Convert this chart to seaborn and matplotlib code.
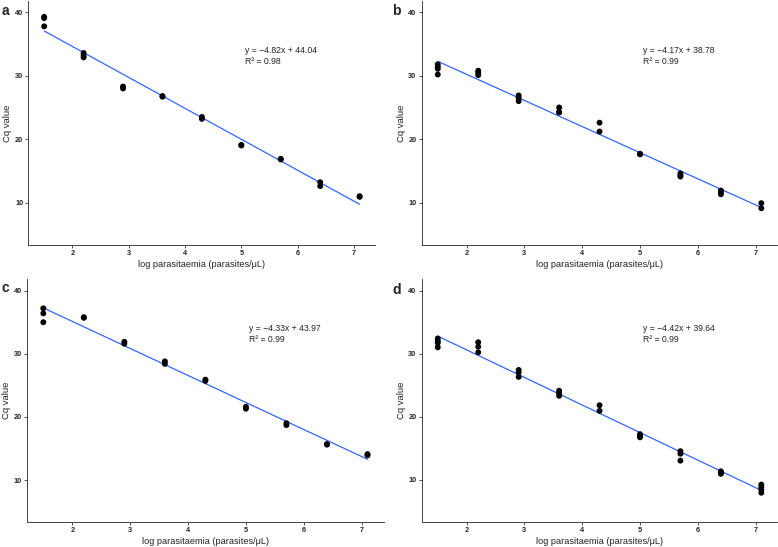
import matplotlib
matplotlib.use("Agg")
import matplotlib.pyplot as plt
import seaborn as sns
import pandas as pd

# log parasitaemia levels (x) and Cq replicates per level, one list per panel
log_levels = [1.5, 2.2, 2.9, 3.6, 4.3, 5.0, 5.7, 6.4, 7.1]

cq_a = [[39.3, 39.1, 37.8], [33.6, 33.2, 32.9], [28.3, 28.0], [26.8, 26.7], [23.5, 23.2],
        [19.1, 19.0], [16.9, 16.8], [13.2, 12.6], [11.0, 10.9]]
cq_b = [[31.8, 31.4, 31.1, 30.2], [30.8, 30.5, 30.1], [26.9, 26.5, 26.0], [25.0, 24.3, 24.2],
        [22.6, 21.2], [17.7, 17.6], [14.6, 14.3, 14.1], [11.9, 11.6, 11.3], [9.9, 9.1]]
cq_c = [[37.2, 36.4, 35.0], [35.8, 35.7], [31.9, 31.6], [28.8, 28.4], [25.9, 25.7],
        [21.6, 21.3], [19.0, 18.7], [15.7, 15.6], [14.1, 13.9]]
cq_d = [[32.4, 32.0, 31.7, 31.0], [31.8, 31.1, 30.2], [27.4, 27.0, 26.3], [24.1, 23.7, 23.3],
        [21.8, 20.9], [17.2, 16.9, 16.7], [14.5, 14.1, 13.0], [11.3, 11.0, 10.9], [9.2, 8.8, 8.4, 7.9]]

panel_names = ["a", "b", "c", "d"]
slopes = [-4.82, -4.17, -4.33, -4.42]
intercepts = [44.04, 38.78, 43.97, 39.64]
r_squared = [0.98, 0.99, 0.99, 0.99]

sns.set_theme(style="ticks")
plt.rcParams['font.family'] = ['Liberation Sans', 'DejaVu Sans']


def to_frame(cq_lists):
    rows = []
    for x, reps in zip(log_levels, cq_lists):
        for y in reps:
            rows.append((x, y))
    return pd.DataFrame(rows, columns=["log_par", "cq"])


fig = plt.figure(figsize=(7.78, 5.47), dpi=100)
W, H = 778, 547
# axes boxes in pixels: left, right, top, bottom
boxes = [(28.4, 375.4, 1, 245), (421.6, 777.5, 1, 245),
         (27.1, 383.7, 279.3, 522.3), (421.6, 777.5, 279.3, 521.7)]
letter_pos = [(2, 11), (392, 11), (2, 288), (392, 290)]

for i, cq in enumerate([cq_a, cq_b, cq_c, cq_d]):
    l, r, t, b = boxes[i]
    ax = fig.add_axes([l / W, 1 - b / H, (r - l) / W, (b - t) / H])
    df = to_frame(cq)
    sns.regplot(data=df, x="log_par", y="cq", ax=ax, scatter=False, ci=None,
                line_kws={"color": "#3366FF", "linewidth": 0.9})
    sns.scatterplot(data=df, x="log_par", y="cq", ax=ax, color="black", s=18,
                    edgecolor="none", zorder=3)
    ax.set_xlim(1.22, 7.38)
    ax.set_ylim(3.3, 41.8)
    ax.set_xticks([2, 3, 4, 5, 6, 7])
    ax.set_yticks([10, 20, 30, 40])
    ax.tick_params(length=2.2, width=0.6, color="#333333", labelsize=5.3, pad=1.5)
    for lab in ax.get_xticklabels() + ax.get_yticklabels():
        lab.set_fontweight("bold")
    sns.despine(ax=ax)
    for s in ["left", "bottom"]:
        ax.spines[s].set_color("#444444")
        ax.spines[s].set_linewidth(0.7)
    ax.set_xlabel("log parasitaemia (parasites/\u03bcL)", fontsize=6.6, color="#222222", labelpad=2)
    ax.set_ylabel("Cq value", fontsize=6.8, color="#222222", labelpad=2)
    eq = f"y = \u2212{abs(slopes[i]):.2f}x + {intercepts[i]:.2f}\nR\u00b2 = {r_squared[i]:.2f}"
    ax.text(5.06, 34.7, eq, fontsize=6.2, color="#222222", va="top", ha="left", linespacing=1.3)
    lx, ly = letter_pos[i]
    fig.text(lx / W, 1 - ly / H, panel_names[i], fontsize=10, fontweight="bold", va="center")

fig.savefig("out.png", dpi=100)
